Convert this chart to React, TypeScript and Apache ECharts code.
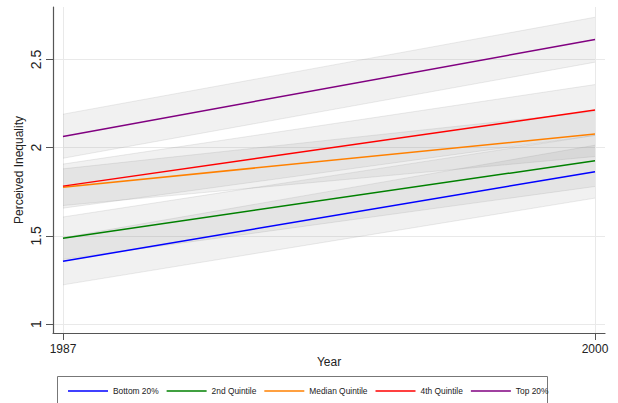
import { useEffect, useRef } from "react";
import * as echarts from "echarts";

// Survey years at the two ends of the fitted lines
const years = [1987, 2000];
const xTicks = [1987, 2000];
const yTicks = [1, 1.5, 2, 2.5];

const groupNames = ["Bottom 20%", "2nd Quintile", "Median Quintile", "4th Quintile", "Top 20%"];
const groupColors = ["#0000ff", "#008000", "#ff8000", "#ff0000", "#800080"];

// Predicted perceived inequality by income group
const bottom20 = [1.356, 1.864];
const quintile2 = [1.487, 1.926];
const medianQuintile = [1.776, 2.078];
const quintile4 = [1.782, 2.214];
const top20 = [2.064, 2.614];

// 95% confidence bounds
const bottom20Low = [1.222, 1.714];
const bottom20High = [1.49, 2.014];
const quintile2Low = [1.367, 1.78];
const quintile2High = [1.607, 2.07];
const medianQuintileLow = [1.672, 1.95];
const medianQuintileHigh = [1.88, 2.206];
const quintile4Low = [1.657, 2.07];
const quintile4High = [1.907, 2.358];
const top20Low = [1.94, 2.485];
const top20High = [2.19, 2.74];

const FONT = "Liberation Sans, Arial, sans-serif";

export default function App() {
  const ref = useRef<HTMLDivElement>(null);

  useEffect(() => {
    document.body.style.margin = "0";
    if (!ref.current) return;
    const chart = echarts.init(ref.current, undefined, { renderer: "svg" });

    const estimates = [bottom20, quintile2, medianQuintile, quintile4, top20];
    const lows = [bottom20Low, quintile2Low, medianQuintileLow, quintile4Low, top20Low];
    const highs = [bottom20High, quintile2High, medianQuintileHigh, quintile4High, top20High];

    // Shaded confidence bands, drawn as one polygon per group
    const bandSeries = groupNames.map((name, g) => ({
      type: "custom" as const,
      name: name + " CI",
      silent: true,
      encode: { x: 0, y: [1, 2] },
      data: years.map((yr, i) => [yr, lows[g][i], highs[g][i]]),
      renderItem: (params: any, api: any) => {
        if (params.dataIndexInside !== 0) return null;
        const n = params.dataInsideLength;
        const upper: number[][] = [];
        const lower: number[][] = [];
        for (let i = 0; i < n; i++) {
          const x = api.value(0, i);
          upper.push(api.coord([x, api.value(2, i)]));
          lower.push(api.coord([x, api.value(1, i)]));
        }
        return {
          type: "group",
          children: [
            {
              type: "polygon",
              shape: { points: upper.concat(lower.slice().reverse()) },
              style: { fill: "rgba(120,120,120,0.1)", stroke: "none" },
            },
            {
              type: "polyline",
              shape: { points: upper },
              style: { fill: "none", stroke: "rgba(120,120,120,0.14)", lineWidth: 1 },
            },
            {
              type: "polyline",
              shape: { points: lower },
              style: { fill: "none", stroke: "rgba(120,120,120,0.14)", lineWidth: 1 },
            },
          ],
        };
      },
    }));

    const lineSeries = groupNames.map((name, g) => ({
      type: "line" as const,
      name,
      data: years.map((yr, i) => [yr, estimates[g][i]]),
      symbol: "none",
      color: groupColors[g],
      lineStyle: { width: 1.5, color: groupColors[g] },
    }));

    chart.setOption({
      animation: false,
      backgroundColor: "#ffffff",
      textStyle: { fontFamily: FONT },
      grid: { left: 53, right: 13, top: 7, bottom: 70, containLabel: false },
      xAxis: {
        type: "value",
        min: 1986.756,
        max: 2000.244,
        name: "Year",
        nameLocation: "middle",
        nameGap: 23,
        nameMoveOverlap: false,
        nameTextStyle: { fontSize: 12, color: "#222", fontFamily: FONT },
        axisLine: { show: true, lineStyle: { color: "#555", width: 1.2 } },
        axisTick: { show: true, length: 7, customValues: xTicks, lineStyle: { color: "#555" } },
        axisLabel: {
          customValues: xTicks,
          fontSize: 12,
          color: "#222",
          margin: 10,
          fontFamily: FONT,
          formatter: (v: number) => String(v),
        },
        splitLine: { show: true, lineStyle: { color: "#e9e9e9", width: 1 } },
      },
      yAxis: {
        type: "value",
        min: 0.949,
        max: 2.798,
        name: "Perceived Inequality",
        nameLocation: "middle",
        nameRotate: 90,
        nameGap: 28,
        nameMoveOverlap: false,
        nameTextStyle: { fontSize: 12, color: "#222", fontFamily: FONT },
        axisLine: { show: true, lineStyle: { color: "#555", width: 1.2 } },
        axisTick: { show: true, length: 7, customValues: yTicks, lineStyle: { color: "#555" } },
        axisLabel: {
          customValues: yTicks,
          rotate: 90,
          fontSize: 14,
          color: "#222",
          margin: 10,
          fontFamily: FONT,
          formatter: (v: number) => String(v),
        },
        splitLine: { show: true, lineStyle: { color: "#e9e9e9", width: 1 } },
      },
      legend: {
        data: groupNames.map((name) => ({ name, icon: "rect" })),
        left: 63,
        top: 382,
        itemWidth: 40,
        itemHeight: 1.6,
        itemGap: 8,
        selectedMode: false,
        itemStyle: { borderWidth: 0 },
        lineStyle: { width: 0 },
        textStyle: { fontSize: 8.4, color: "#222", fontFamily: FONT },
      },
      graphic: [
        {
          type: "rect",
          silent: true,
          shape: { x: 57.5, y: 376.5, width: 490, height: 40 },
          style: { fill: "none", stroke: "#777", lineWidth: 1 },
        },
      ],
      series: [...bandSeries, ...lineSeries],
    });

    return () => chart.dispose();
  }, []);

  return (
    <div
      ref={ref}
      style={{ position: "fixed", left: 0, top: 0, width: 618, height: 403 }}
    />
  );
}
